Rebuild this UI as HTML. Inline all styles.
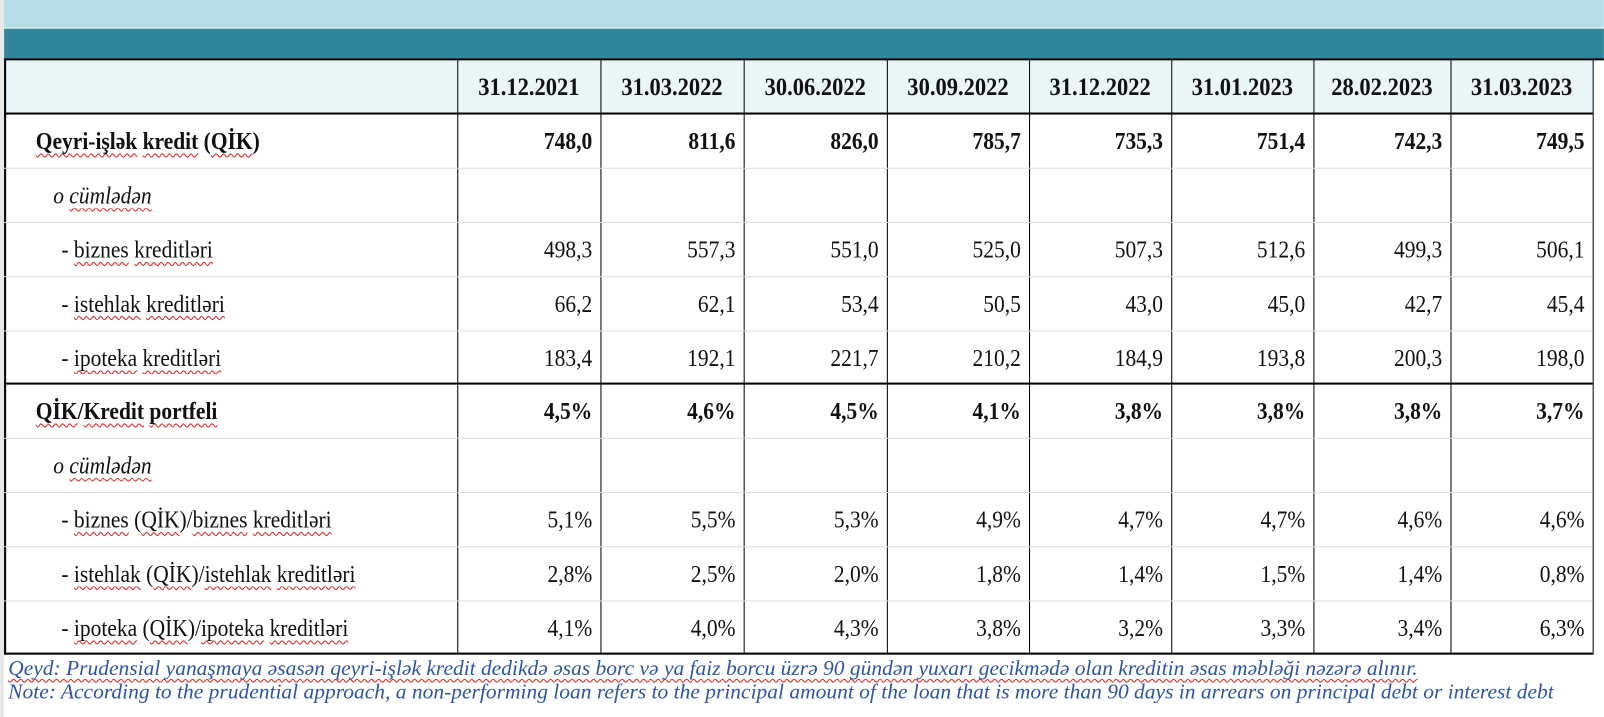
<!DOCTYPE html><html><head><meta charset="utf-8"><style>
body{margin:0;width:1604px;height:717px;background:#fff;position:relative;overflow:hidden;font-family:"Liberation Serif",serif;color:#111}
#w{position:absolute;left:0;top:0;width:1568px;height:701px;transform:scale(1.0229);transform-origin:0 0}
.a{position:absolute}
.t{position:absolute;font-size:21px;white-space:nowrap;line-height:20px;transform:scaleY(1.12)}
.u{text-decoration:underline wavy #d33;text-decoration-thickness:1px;text-underline-offset:3px;text-decoration-skip-ink:none}
</style></head><body><div id="w">
<div class="a" style="left:0;top:0;width:1568px;height:27px;background:#b7dde7"></div>
<div class="a" style="left:0;top:0;width:4px;height:701px;background:#e8e8e8"></div>
<div class="a" style="left:4px;top:28px;width:1564px;height:29px;background:#31869b"></div>
<div class="a" style="left:4px;top:59px;width:1553px;height:51px;background:#eaf5f8"></div>
<div id="g"></div>
</div>
<script>
let h='';const cols=[4,447,587,727,867,1006,1145,1284,1418,1557];
cols.forEach((x,i)=>{h+=`<div class="a" style="left:${x}px;top:57px;width:${i==0?2:1}px;height:583px;background:#000"></div>`});
const rows=[111,164,217,270,323,375,428,481,534,587,639];
rows.forEach((y,i)=>{let thick=(i==0||i==5||i==10);h+=`<div class="a" style="left:4px;top:${y-(thick?1:0)}px;width:1553px;height:${thick?2:1}px;background:${thick?'#000':'#ddd'}"></div>`});
h+=`<div class="a" style="left:4px;top:57px;width:1564px;height:2px;background:#000"></div>`;
const dates=["31.12.2021","31.03.2022","30.06.2022","30.09.2022","31.12.2022","31.01.2023","28.02.2023","31.03.2023"];
dates.forEach((d,i)=>{h+=`<div class="t" style="left:${cols[i+1]}px;width:${cols[i+2]-cols[i+1]}px;top:75px;text-align:center;font-weight:bold;font-size:22px">${d}</div>`});
const data=[
["<span class='u'>Qeyri-işlək</span> <span class='u'>kredit</span> (<span class='u'>QİK</span>)",1,35,["748,0","811,6","826,0","785,7","735,3","751,4","742,3","749,5"]],
["<i>o <span class='u'>cümlədən</span></i>",0,52,null],
["- <span class='u'>biznes</span> <span class='u'>kreditləri</span>",0,60,["498,3","557,3","551,0","525,0","507,3","512,6","499,3","506,1"]],
["- <span class='u'>istehlak</span> <span class='u'>kreditləri</span>",0,60,["66,2","62,1","53,4","50,5","43,0","45,0","42,7","45,4"]],
["- <span class='u'>ipoteka</span> <span class='u'>kreditləri</span>",0,60,["183,4","192,1","221,7","210,2","184,9","193,8","200,3","198,0"]],
["<span class='u'>QİK</span>/<span class='u'>Kredit</span> <span class='u'>portfeli</span>",1,35,["4,5%","4,6%","4,5%","4,1%","3,8%","3,8%","3,8%","3,7%"]],
["<i>o <span class='u'>cümlədən</span></i>",0,52,null],
["- <span class='u'>biznes</span> (<span class='u'>QİK</span>)/<span class='u'>biznes</span> <span class='u'>kreditləri</span>",0,60,["5,1%","5,5%","5,3%","4,9%","4,7%","4,7%","4,6%","4,6%"]],
["- <span class='u'>istehlak</span> (<span class='u'>QİK</span>)/<span class='u'>istehlak</span> <span class='u'>kreditləri</span>",0,60,["2,8%","2,5%","2,0%","1,8%","1,4%","1,5%","1,4%","0,8%"]],
["- <span class='u'>ipoteka</span> (<span class='u'>QİK</span>)/<span class='u'>ipoteka</span> <span class='u'>kreditləri</span>",0,60,["4,1%","4,0%","4,3%","3,8%","3,2%","3,3%","3,4%","6,3%"]]];
data.forEach((r,i)=>{const y=rows[i]+17;const fw=r[1]?'bold':'normal';
h+=`<div class="t" style="left:${r[2]}px;top:${y}px;font-weight:${fw}">${r[0]}</div>`;
if(r[3])r[3].forEach((v,j)=>{h+=`<div class="t" style="left:${cols[j+1]}px;width:${cols[j+2]-cols[j+1]-8}px;top:${y}px;text-align:right;font-weight:${fw}">${v}</div>`});});
h+=`<div class="t" style="left:8px;top:643px;font-style:italic;color:#2f55a4;transform:none"><span class='u'>Qeyd: Prudensial yanaşmaya əsasən qeyri-işlək kredit dedikdə əsas borc və ya faiz borcu üzrə 90 gündən yuxarı gecikmədə olan kreditin əsas məbləği nəzərə alınır.</span></div>`;
h+=`<div class="t" style="left:8px;top:666px;font-style:italic;color:#2f55a4;transform:none">Note: According to the prudential approach, a non-performing loan refers to the principal amount of the loan that is more than 90 days in arrears on principal debt or interest debt</div>`;
document.getElementById('g').innerHTML=h;
</script>
</body></html>
